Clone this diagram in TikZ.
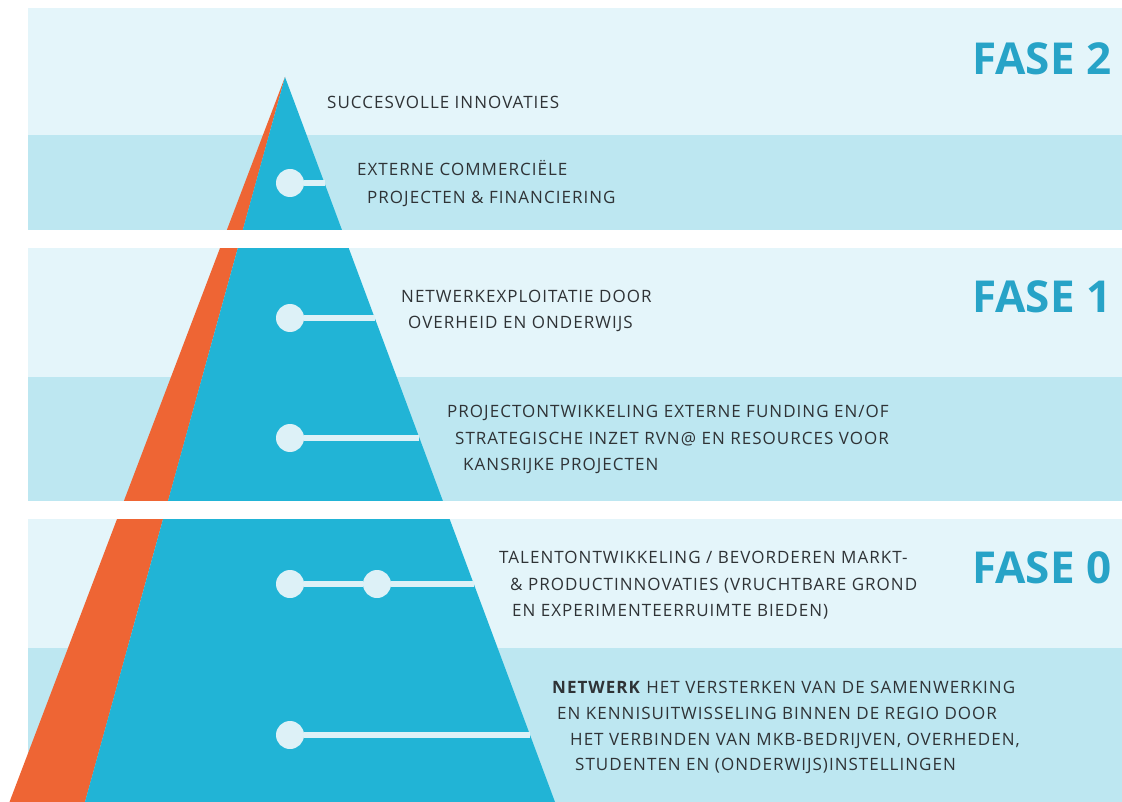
\documentclass[tikz,border=0pt]{standalone}
\usepackage{fontspec}
\setmainfont{Open Sans}
\newfontfamily\lblfont[LetterSpace=6]{Open Sans}
\newfontfamily\fasefont{Open Sans}
\definecolor{bandlight}{HTML}{E4F5FA}
\definecolor{banddark}{HTML}{BDE7F1}
\definecolor{pyrblue}{HTML}{21B4D6}
\definecolor{pyrorange}{HTML}{EE6534}
\definecolor{dotcol}{HTML}{DDF1F7}
\definecolor{fasecol}{HTML}{27A3C7}
\definecolor{txtcol}{HTML}{2F3336}
\begin{document}
\begin{tikzpicture}[x=1pt,y=-1pt,
  dot/.style={circle,fill=dotcol,minimum size=28pt,inner sep=0pt},
  link/.style={draw=dotcol,line width=5.5pt},
  lbl/.style={anchor=base west,inner sep=0pt,text=txtcol,font=\lblfont\fontsize{17}{20}\selectfont},
  fase/.style={anchor=base west,inner sep=0pt,text=fasecol,font=\fasefont\bfseries\fontsize{44}{50}\selectfont}]
\useasboundingbox (0,0) rectangle (1122,802);
\fill[white] (0,0) rectangle (1122,802);
% bands
\fill[bandlight] (28,8) rectangle (1122,135);
\fill[banddark] (28,135) rectangle (1122,230);
\fill[bandlight] (28,248) rectangle (1122,377);
\fill[banddark] (28,377) rectangle (1122,501);
\fill[bandlight] (28,519) rectangle (1122,648);
\fill[banddark] (28,648) rectangle (1122,802);
% pyramid
\coordinate (apex) at (285,77);
\fill[pyrorange] (apex) -- (9.5,802) -- (85,802) -- cycle;
\fill[pyrblue] (apex) -- (85,802) -- (555,802) -- cycle;
% gaps
\fill[white] (0,230) rectangle (1122,248);
\fill[white] (0,501) rectangle (1122,519);
% dots and links
\node[dot] (d1) at (290,183) {};
\node[dot] (d2) at (290,318) {};
\node[dot] (d3) at (290,438) {};
\node[dot] (d4) at (290,584) {};
\node[dot] (d5) at (377,584) {};
\node[dot] (d6) at (290,735) {};
\coordinate (e1) at (324.5,183);
\coordinate (e2) at (374.7,318);
\coordinate (e3) at (419.4,438);
\coordinate (e4) at (473.8,584);
\coordinate (e6) at (530.0,735);
\draw[link] (d1) -- (e1);
\draw[link] (d2) -- (e2);
\draw[link] (d3) -- (e3);
\draw[link] (d4) -- (d5);
\draw[link] (d5) -- (e4);
\draw[link] (d6) -- (e6);
% phase labels
\node[fase] (f2) at (972,75) {FASE 2};
\node[fase] (f1) at (972,313) {FASE 1};
\node[fase] (f0) at (972,583) {FASE 0};
% texts
\node[lbl] (t1) at (327,109) {SUCCESVOLLE INNOVATIES};
\node[lbl] (t2) at (357,176) {EXTERNE COMMERCIËLE};
\node[lbl] (t3) at (367,204) {PROJECTEN \& FINANCIERING};
\node[lbl] (t4) at (401,303) {NETWERKEXPLOITATIE DOOR};
\node[lbl] (t5) at (408,329) {OVERHEID EN ONDERWIJS};
\node[lbl] (t6) at (447,417) {PROJECTONTWIKKELING EXTERNE FUNDING EN/OF};
\node[lbl] (t7) at (455,444) {STRATEGISCHE INZET RVN@ EN RESOURCES VOOR};
\node[lbl] (t8) at (463,470) {KANSRIJKE PROJECTEN};
\node[lbl] (t9) at (499,563) {TALENTONTWIKKELING / BEVORDEREN MARKT-};
\node[lbl] (t10) at (510,590) {\& PRODUCTINNOVATIES (VRUCHTBARE GROND};
\node[lbl] (t11) at (512,616) {EN EXPERIMENTEERRUIMTE BIEDEN)};
\node[lbl] (t12) at (552,693) {\textbf{NETWERK} HET VERSTERKEN VAN DE SAMENWERKING};
\node[lbl] (t13) at (557,719) {EN KENNISUITWISSELING BINNEN DE REGIO DOOR};
\node[lbl] (t14) at (570,745) {HET VERBINDEN VAN MKB-BEDRIJVEN, OVERHEDEN,};
\node[lbl] (t15) at (575,770) {STUDENTEN EN (ONDERWIJS)INSTELLINGEN};
\end{tikzpicture}
\end{document}
